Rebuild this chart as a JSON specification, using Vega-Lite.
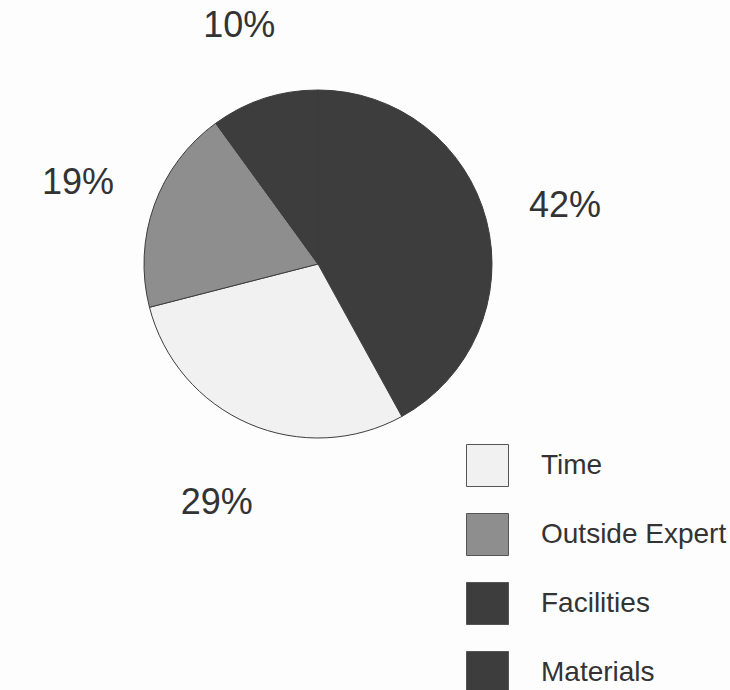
{
  "$schema": "https://vega.github.io/schema/vega-lite/v6.json",
  "width": 636,
  "height": 528,
  "autosize": {"type": "none"},
  "padding": {"left": 0, "top": 0, "right": 94, "bottom": 162},
  "background": "#fdfdfd",
  "data": {
    "values": [
      {"category": "Materials", "share": 42, "label": "42%", "ord": 1},
      {"category": "Time", "share": 29, "label": "29%", "ord": 2},
      {"category": "Outside Expert", "share": 19, "label": "19%", "ord": 3},
      {"category": "Facilities", "share": 10, "label": "10%", "ord": 4}
    ]
  },
  "encoding": {
    "theta": {"field": "share", "type": "quantitative", "stack": true},
    "order": {"field": "ord", "type": "quantitative"}
  },
  "layer": [
    {
      "mark": {"type": "arc", "outerRadius": 174, "stroke": "#3d3d3d", "strokeWidth": 1},
      "encoding": {
        "color": {
          "field": "category",
          "type": "nominal",
          "scale": {
            "domain": ["Time", "Outside Expert", "Facilities", "Materials"],
            "range": ["#f1f1f1", "#8e8e8e", "#3d3d3d", "#3d3d3d"]
          },
          "legend": {
            "title": null,
            "orient": "none",
            "legendX": 466,
            "legendY": 444,
            "padding": 0,
            "symbolType": "square",
            "symbolSize": 1764,
            "symbolStrokeColor": "#555555",
            "symbolStrokeWidth": 1,
            "symbolOpacity": 1,
            "rowPadding": 22,
            "labelOffset": 32,
            "labelFont": "Liberation Sans",
            "labelFontSize": 28,
            "labelColor": "#333333",
            "labelLimit": 400
          }
        }
      }
    },
    {
      "mark": {
        "type": "text",
        "radius": 255,
        "dy": 5,
        "font": "Liberation Sans",
        "fontSize": 36,
        "color": "#333333",
        "align": "center",
        "baseline": "middle"
      },
      "encoding": {
        "text": {"field": "label", "type": "nominal"}
      }
    }
  ],
  "config": {"view": {"stroke": null}}
}
